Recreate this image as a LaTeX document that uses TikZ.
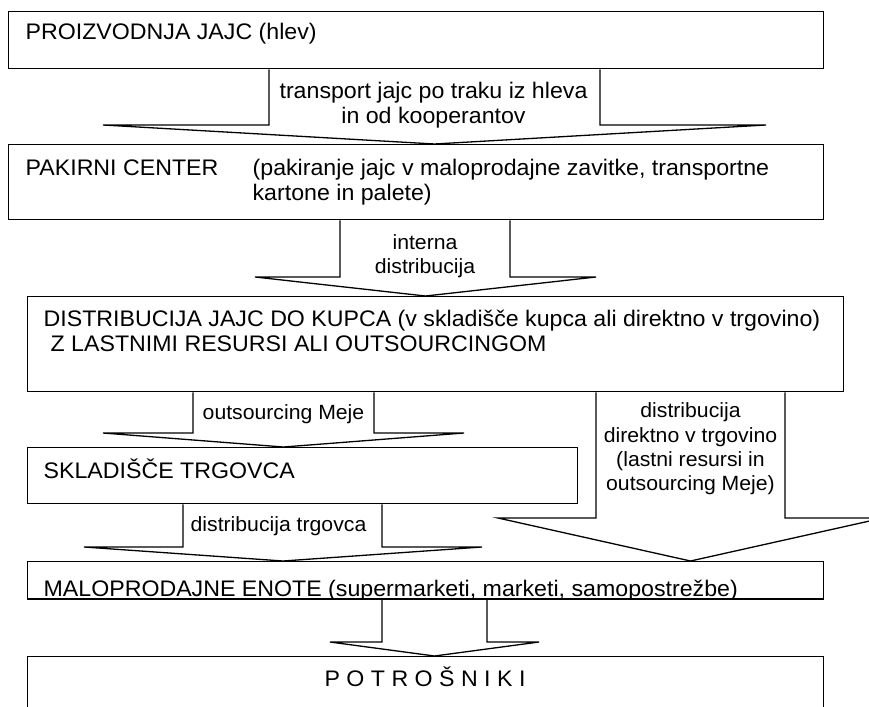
\documentclass[tikz,border=0pt]{standalone}
\usepackage{fontspec}
\setmainfont{Liberation Sans}[FakeStretch=1.03]
\begin{document}
\begin{tikzpicture}[x=1pt,y=-1pt,line width=1.3pt,
  box/.style={draw,rectangle,inner sep=0pt,anchor=north west},
  big/.style={inner sep=0pt,font=\fontsize{22.5}{26}\selectfont},
  small/.style={inner sep=0pt,anchor=base,font=\fontsize{20.6}{24}\selectfont},
  txt/.style={big,anchor=base west},
  ctxt/.style={big,anchor=base},
  blockarrow/.style={draw,line join=miter}]
\useasboundingbox (0,0) rectangle (869,706);

% boxes
\node[box,minimum width=815pt,minimum height=57pt] (b1) at (8,11) {};
\node[box,minimum width=815pt,minimum height=75pt] (b2) at (8,144) {};
\node[box,minimum width=816pt,minimum height=95pt] (b3) at (27,296) {};
\node[box,minimum width=550pt,minimum height=56pt] (b4) at (27,447) {};
\node[box,minimum width=796pt,minimum height=37pt] (b5) at (27,561) {};
\node[box,minimum width=796pt,minimum height=80pt] (b6) at (27,656) {};

% block arrows: shaft from the upper box, head pointing at the lower box
% #1 from, #2 to, #3/#4 shaft x, #5 head y, #6/#7 wing x, #8 tip x
\newcommand\blockarrow[8]{%
  \draw[blockarrow] ({#3},0 |- #1.south) -- ({#3},#5) -- ({#6},#5)
    -- ({#8},0 |- #2.north) -- ({#7},#5) -- ({#4},#5) -- ({#4},0 |- #1.south);}
\blockarrow{b1}{b2}{269}{600}{125}{103}{766}{434.5}
\blockarrow{b2}{b3}{340}{510}{277}{255}{596}{425.5}
\blockarrow{b3}{b4}{193}{374}{433}{103}{464}{283.5}
\blockarrow{b3}{b5}{596}{785}{518}{498}{883}{690.5}
\blockarrow{b4}{b5}{183}{382}{547}{84}{482}{283}
\blockarrow{b5}{b6}{382}{487}{642}{330}{539}{434.5}

% box texts
\node[txt] (t1) at (25,40) {PROIZVODNJA JAJC (hlev)};
\node[txt] (t2a) at (25,175) {PAKIRNI CENTER};
\node[txt] (t2b) at (252,175) {(pakiranje jajc v maloprodajne zavitke, transportne};
\node[txt] (t2c) at (252,200) {kartone in palete)};
\node[txt] (t3a) at (43,326) {DISTRIBUCIJA JAJC DO KUPCA (v skladišče kupca ali direktno v trgovino)};
\node[txt] (t3b) at (50,351) {Z LASTNIMI RESURSI ALI OUTSOURCINGOM};
\node[txt] (t4) at (43,478) {SKLADIŠČE TRGOVCA};
\begin{scope}
  \clip (b5.north west) rectangle (b5.south east);
  \node[txt] (t5) at (43,596) {MALOPRODAJNE ENOTE (supermarketi, marketi, samopostrežbe)};
\end{scope}
\draw (b5.south west) -- (b5.south east);
\node[ctxt] (t6) at (425,686) {P O T R O Š N I K I};

% arrow labels
\node[ctxt] (a1a) at (433.5,99) {transport jajc po traku iz hleva};
\node[ctxt] (a1b) at (433.5,123) {in od kooperantov};
\node[small] (a2a) at (425,249) {interna};
\node[small] (a2b) at (425,273) {distribucija};
\node[small] (a3) at (283.5,419) {outsourcing Meje};
\node[small] (a4a) at (690.5,417) {distribucija};
\node[small] (a4b) at (690.5,442) {direktno v trgovino};
\node[small] (a4c) at (690.5,466) {(lastni resursi in};
\node[small] (a4d) at (690.5,490) {outsourcing Meje)};
\node[small] (a5) at (278.5,531) {distribucija trgovca};
\end{tikzpicture}
\end{document}
